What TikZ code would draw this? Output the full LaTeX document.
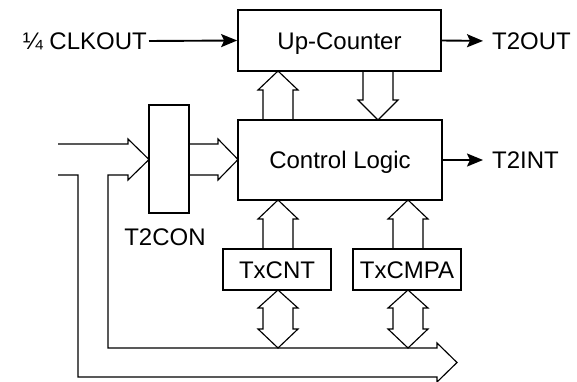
\documentclass[tikz,border=0pt]{standalone}
\usepackage{fontspec}
\setmainfont{Liberation Sans}
\usetikzlibrary{arrows.meta}
\begin{document}
\begin{tikzpicture}[x=1pt,y=-1pt,
  txt/.style={inner sep=0pt, text height=17pt, text depth=0pt, font=\fontsize{24}{28}\selectfont},
  blk/.style={txt, draw, line width=1.7pt, rectangle},
  sig/.style={line width=1.9pt, -{Stealth[length=16pt,width=13pt,inset=3pt]}},
  fat/.style={line width=1.15pt, line join=miter}]
\useasboundingbox (0,0) rectangle (577,381);

% blocks
\node[blk, minimum width=203pt, minimum height=61pt] (upc) at (339.5,40.5) {Up-Counter};
\node[blk, minimum width=204pt, minimum height=80pt] (ctl) at (340,160) {Control Logic};
\node[blk, minimum width=40pt, minimum height=108pt] (t2con) at (169,159) {};
\node[blk, minimum width=108pt, minimum height=41pt] (txcnt) at (277,269.5) {TxCNT};
\node[blk, minimum width=108pt, minimum height=41pt] (txcmpa) at (407,269.5) {TxCMPA};

% labels
\node[txt, anchor=east] (clk) at (147,41) {¼ CLKOUT};
\node[txt, anchor=west] (t2out) at (492,41) {T2OUT};
\node[txt, anchor=west] (t2int) at (492,160) {T2INT};
\node[txt] (t2conl) at (165,236.5) {T2CON};

% signal arrows
\draw[sig, shorten <=2pt] (clk.east) -- (upc.west);
\draw[sig, shorten >=9pt] (upc.east) -- (t2out.west);
\draw[sig, shorten >=9pt] (ctl.east) -- (t2int.west);

% bus arrows
\draw[fat] (263,120) -- (263,90) -- (258,90) -- (278,71) -- (298,90) -- (293,90) -- (293,120);
\draw[fat] (363,71) -- (363,100) -- (358,100) -- (378,120) -- (398,100) -- (393,100) -- (393,71);
\draw[fat] (189,144) -- (218,144) -- (218,139) -- (238,159.5) -- (218,180) -- (218,175) -- (189,175);
\draw[fat] (58,144) -- (128,144) -- (128,139) -- (149,159.5) -- (128,180) -- (128,175) -- (108,175)
  -- (108,348) -- (437,348) -- (437,343) -- (457,362.5) -- (437,382) -- (437,377) -- (78,377) -- (78,175) -- (58,175);
\draw[fat] (263,249) -- (263,219) -- (258,219) -- (278,200) -- (298,219) -- (293,219) -- (293,249);
\draw[fat] (393,249) -- (393,219) -- (388,219) -- (408,200) -- (428,219) -- (423,219) -- (423,249);
\draw[fat] (278,290) -- (298,308) -- (293,308) -- (293,329) -- (298,329) -- (278,348) -- (258,329)
  -- (263,329) -- (263,308) -- (258,308) -- cycle;
\draw[fat] (408,290) -- (428,308) -- (423,308) -- (423,329) -- (428,329) -- (408,348) -- (388,329)
  -- (393,329) -- (393,308) -- (388,308) -- cycle;
\end{tikzpicture}
\end{document}
